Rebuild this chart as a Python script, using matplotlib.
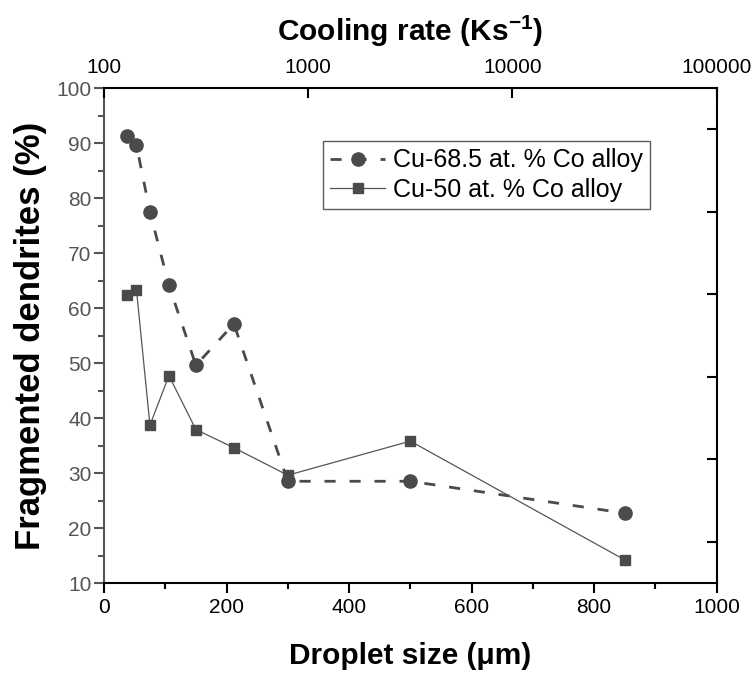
import matplotlib
matplotlib.use("Agg")
import matplotlib.pyplot as plt
from matplotlib.ticker import MultipleLocator, FixedLocator, NullFormatter

plt.rcParams['font.family'] = ['Liberation Sans', 'DejaVu Sans']
plt.rcParams['mathtext.fontset'] = 'custom'
plt.rcParams['mathtext.rm'] = 'Liberation Sans'
plt.rcParams['mathtext.bf'] = 'Liberation Sans:bold'

# Data
droplet_size = [38, 53, 75, 106, 150, 212, 300, 500, 850]
frag_685 = [91.2, 89.6, 77.5, 64.1, 49.6, 57.1, 28.5, 28.5, 22.7]
frag_50 = [62.4, 63.3, 38.7, 47.7, 37.9, 34.6, 29.6, 35.8, 14.2]
label_685 = "Cu-68.5 at. % Co alloy"
label_50 = "Cu-50 at. % Co alloy"
top_ticks = [100, 1000, 10000, 100000]
top_labels = ["100", "1000", "10000", "100000"]
right_ticks = [17.5, 32.5, 47.5, 62.5, 77.5, 92.5]

mark_col = '#4a4a4a'
gray = '#555555'

fig = plt.figure(figsize=(7.53, 6.73), dpi=100)
ax = fig.add_axes([0.1381, 0.1337, 0.9518 - 0.1381, 0.8692 - 0.1337])

ax.plot(droplet_size, frag_685, linestyle=(0, (4, 5)), linewidth=2.0, color=mark_col,
        marker='o', markersize=9.5, markerfacecolor=mark_col, markeredgecolor=mark_col,
        label=label_685)
ax.plot(droplet_size, frag_50, linestyle='-', linewidth=0.9, color=gray,
        marker='s', markersize=7.2, markerfacecolor=mark_col, markeredgecolor=mark_col,
        label=label_50)

ax.set_xlim(0, 1000)
ax.set_ylim(10, 100)
ax.xaxis.set_major_locator(MultipleLocator(200))
ax.xaxis.set_minor_locator(MultipleLocator(100))
ax.yaxis.set_major_locator(MultipleLocator(10))
ax.yaxis.set_minor_locator(MultipleLocator(5))

ax.tick_params(axis='x', which='major', direction='out', length=7, width=1.5, labelsize=15,
               colors='black', pad=4)
ax.tick_params(axis='x', which='minor', direction='out', length=4, width=1.5)
ax.tick_params(axis='y', which='major', direction='out', length=7, width=1.5, labelsize=15,
               colors=gray, pad=2)
ax.tick_params(axis='y', which='minor', direction='out', length=4, width=1.5, colors=gray)
ax.tick_params(right=False, top=False, which='both')

for s in ['bottom', 'top', 'right']:
    ax.spines[s].set_color('black')
    ax.spines[s].set_linewidth(1.5)
ax.spines['left'].set_color(gray)
ax.spines['left'].set_linewidth(1.5)

ax.set_xlabel("Droplet size (μm)", fontsize=21.5, fontweight='bold', labelpad=18)
ax.set_ylabel("Fragmented dendrites (%)", fontsize=25, fontweight='bold', labelpad=7)

# Top log axis
axt = ax.twiny()
axt.set_xscale('log')
axt.set_xlim(100, 100000)
axt.xaxis.set_major_locator(FixedLocator(top_ticks))
axt.set_xticklabels(top_labels)
axt.xaxis.set_minor_locator(FixedLocator([]))
axt.tick_params(axis='x', which='major', direction='in', length=7, width=1.5, labelsize=15, pad=8)
axt.set_xlabel(r"Cooling rate (Ks$^{\mathbf{-1}}$)", fontsize=21.5, fontweight='bold', labelpad=12)
for s in axt.spines.values():
    s.set_visible(False)

# Right axis
axr = ax.twinx()
axr.set_ylim(10, 100)
axr.yaxis.set_major_locator(FixedLocator(right_ticks))
axr.yaxis.set_major_formatter(NullFormatter())
axr.tick_params(axis='y', direction='in', length=7.5, width=1.5)
for s in axr.spines.values():
    s.set_visible(False)

leg = ax.legend(loc='upper left', bbox_to_anchor=(0.357, 0.893), fontsize=18,
                frameon=True, fancybox=False, handlelength=2.2, handletextpad=0.3,
                borderpad=0.3, labelspacing=0.22, borderaxespad=0)
leg.get_frame().set_edgecolor('#333333')
leg.get_frame().set_linewidth(1.0)

fig.savefig("out.png", dpi=100)
